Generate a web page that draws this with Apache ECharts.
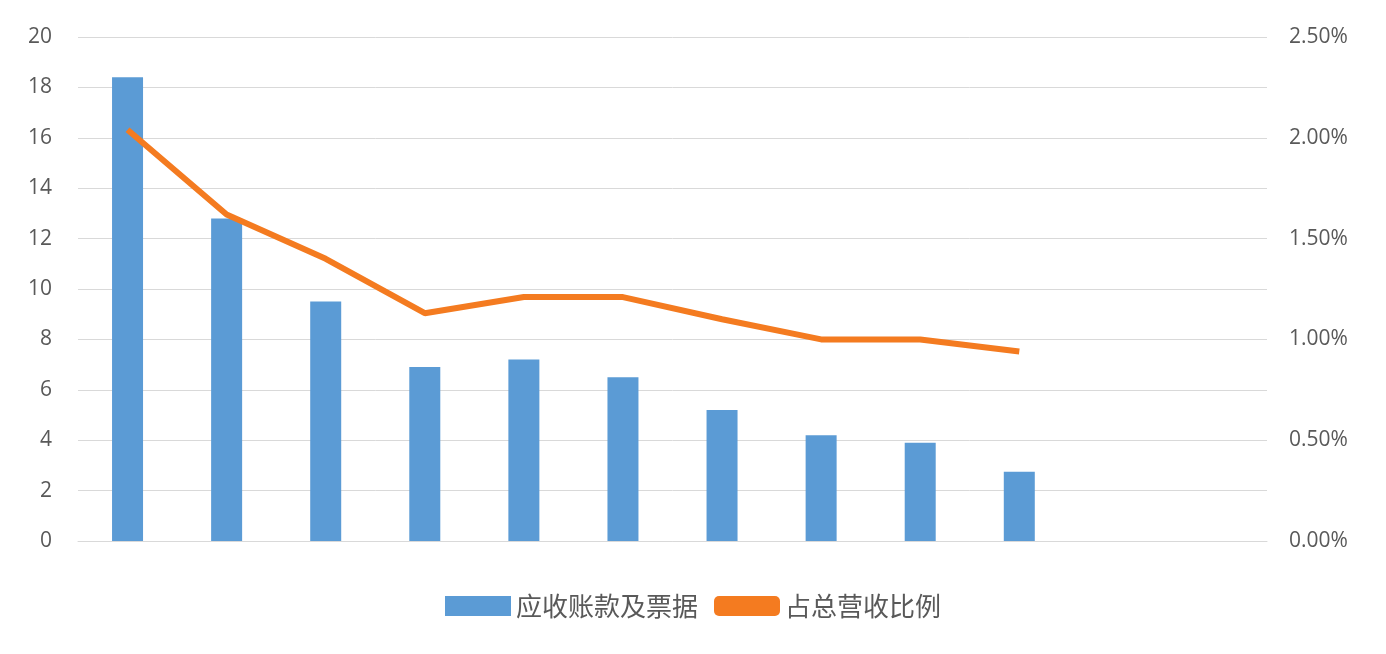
<!DOCTYPE html>
<html>
<head>
<meta charset="utf-8">
<script src="https://cdn.jsdelivr.net/npm/echarts@6/dist/echarts.min.js"></script>
<style>html,body{margin:0;padding:0;background:#fff}#main{width:1386px;height:654px}</style>
</head>
<body>
<div id="main"></div>
<script>
var categories = ['1', '2', '3', '4', '5', '6', '7', '8', '9', '10', '11', '12'];
var receivables = [18.4, 12.8, 9.5, 6.9, 7.2, 6.5, 5.2, 4.2, 3.9, 2.75, null, null];
var ratio = [2.04, 1.62, 1.40, 1.13, 1.21, 1.21, 1.10, 1.00, 1.00, 0.94, null, null];

var chart = echarts.init(document.getElementById('main'));
var labelStyle = { color: '#595959', fontSize: 21, fontFamily: 'Open Sans, Noto Sans CJK SC' };

chart.setOption({
  animation: false,
  grid: { left: 78, right: 119, top: 37, bottom: 113 },
  legend: {
    bottom: 30,
    itemWidth: 66,
    itemHeight: 20,
    itemGap: 16,
    textStyle: { color: '#595959', fontSize: 26, fontFamily: 'Noto Sans CJK SC' },
    data: [
      { name: '应收账款及票据', icon: 'rect' },
      { name: '占总营收比例', icon: 'roundRect' }
    ]
  },
  xAxis: {
    type: 'category',
    data: categories,
    axisLine: { lineStyle: { color: '#d9d9d9' } },
    axisTick: { show: false },
    axisLabel: { show: false }
  },
  yAxis: [
    {
      type: 'value', min: 0, max: 20, interval: 2,
      axisLabel: Object.assign({ margin: 26 }, labelStyle),
      splitLine: { lineStyle: { color: '#d9d9d9' } }
    },
    {
      type: 'value', min: 0, max: 2.5, interval: 0.5,
      axisLabel: Object.assign({ margin: 22, formatter: function (v) { return v.toFixed(2) + '%'; } }, labelStyle),
      splitLine: { show: false }
    }
  ],
  series: [
    {
      name: '应收账款及票据',
      type: 'bar',
      data: receivables,
      barWidth: 31,
      itemStyle: { color: '#5b9bd5' }
    },
    {
      name: '占总营收比例',
      type: 'line',
      yAxisIndex: 1,
      data: ratio,
      symbol: 'none',
      lineStyle: { color: '#f47b20', width: 6 },
      itemStyle: { color: '#f47b20' }
    }
  ]
});
</script>
</body>
</html>
